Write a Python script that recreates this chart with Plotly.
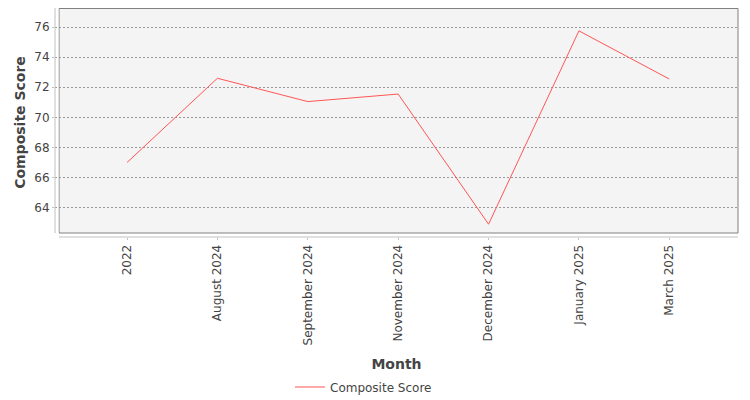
import plotly.graph_objects as go

months = ["2022", "August 2024", "September 2024", "November 2024",
          "December 2024", "January 2025", "March 2025"]
scores = [67.0, 72.6, 71.05, 71.55, 62.9, 75.75, 72.55]
y_ticks = [64, 66, 68, 70, 72, 74, 76]

# the page body adds an 8px margin, so the figure is shrunk by that much
W, H = 742, 392
L, R, T, B = 47, 12, 0, 163
pw, ph = W - L - R, H - T - B
gap = 4  # offset between axis lines and the plot frame

font = "DejaVu Sans"

fig = go.Figure()
fig.add_trace(go.Scatter(
    x=list(range(len(months))), y=scores, mode="lines",
    name="Composite Score", line=dict(color="#ff5555", width=1),
))

# plot frame, white gap strip, offset axis lines
fig.add_shape(type="rect", xref="paper", yref="paper", layer="below",
              x0=gap / pw, x1=1, y0=gap / ph, y1=1 - 0.5 / ph,
              fillcolor="#f4f4f4", line=dict(color="#808080", width=1))
fig.add_shape(type="rect", xref="paper", yref="paper", layer="between",
              x0=0, x1=(gap - 0.5) / pw, y0=0, y1=1,
              fillcolor="white", line=dict(width=0))
fig.add_shape(type="line", xref="paper", yref="paper",
              x0=0, x1=0, y0=gap / ph, y1=1,
              line=dict(color="#c0c0c0", width=1))
fig.add_shape(type="line", xref="paper", yref="paper",
              x0=gap / pw, x1=1, y0=0, y1=0,
              line=dict(color="#c0c0c0", width=1))

fig.update_layout(
    width=W, height=H,
    margin=dict(l=L, r=R, t=T, b=B, autoexpand=False),
    paper_bgcolor="white", plot_bgcolor="white",
    font=dict(family=font, size=12, color="#444444"),
    showlegend=True,
    legend=dict(orientation="h", x=(330 - 8 - 40 - L) / pw, xanchor="left",
                y=-150 / ph, yanchor="middle",
                font=dict(size=12, color="#444444")),
    xaxis=dict(
        range=[-0.797, 6.76], showgrid=False, zeroline=False, showline=False,
        tickmode="array", tickvals=list(range(len(months))), ticktext=months,
        tickangle=-90, ticks="outside", ticklen=2, tickcolor="#c0c0c0",
        title=dict(text="<b>Month</b>", font=dict(size=14, color="#444444"),
                   standoff=14),
        automargin=False,
    ),
    yaxis=dict(
        range=[62.05, 77.27], showline=False, zeroline=False,
        tickmode="array", tickvals=y_ticks,
        showgrid=True, gridcolor="#999999", griddash="2px,2px", gridwidth=1,
        ticks="outside", ticklen=2, tickcolor="#c0c0c0",
        title=dict(text="<b>Composite Score</b>", font=dict(size=14, color="#444444"),
                   standoff=5),
        automargin=False,
    ),
)

fig.write_html("out.html")
